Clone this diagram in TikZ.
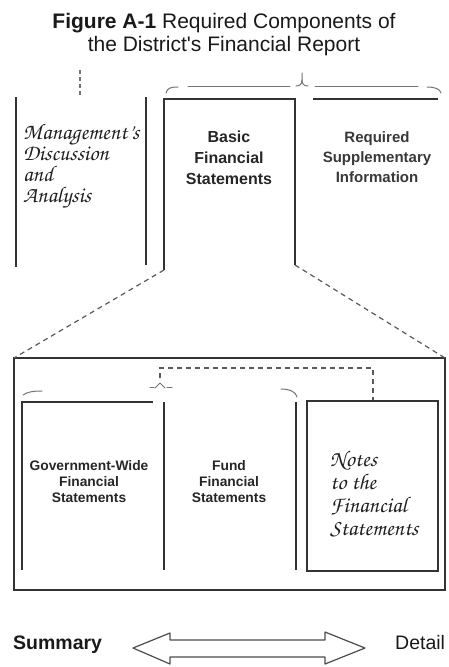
\documentclass[tikz,border=0pt]{standalone}
\usepackage[T1]{fontenc}
\usepackage{fontspec}
\newfontfamily\arial{Liberation Sans}
\newcommand\scriptf{\fontencoding{T1}\fontfamily{pzc}\fontseries{mb}\fontshape{it}\selectfont}
\begin{document}
\begin{tikzpicture}[x=1pt,y=-1pt,
  ln/.style={line width=1.3pt, draw=black!80},
  dsh/.style={line width=1.2pt, draw=black!65, dash pattern=on 5pt off 4pt},
  frag/.style={line width=1pt, draw=black!55, line cap=round},
  hd/.style={font=\arial\fontsize{21}{23}\selectfont, anchor=base, text=black!90},
  bfs/.style={font=\arial\bfseries\fontsize{16}{22}\selectfont, anchor=base, text=black!85},
  rsi/.style={font=\arial\bfseries\fontsize{15}{22}\selectfont, anchor=base, text=black!78},
  low/.style={font=\arial\bfseries\fontsize{13.8}{16}\selectfont, anchor=base, text=black!85},
  scr/.style={font=\scriptf\fontsize{22.5}{22}\selectfont, anchor=base west, text=black!88, inner sep=0pt},
  lbl/.style={font=\arial\fontsize{19.5}{22}\selectfont, anchor=base west, inner sep=0pt, text=black!90}
]
\useasboundingbox (0,0) rectangle (448,667);
% title
\node[hd] (t1) at (224,28) {\textbf{Figure A-1} Required Components of};
\node[hd] (t2) at (224,51) {the District\textquotesingle s Financial Report};

% small dashed mark above MD&A
\coordinate (mdT) at (80,70);
\coordinate (mdB) at (80,96);
\draw[line width=1.1pt, draw=black!55, dash pattern=on 4pt off 3pt] (mdT) -- (mdB);

% top brace over BFS + RSI
\draw[frag] (166,93) .. controls (167,88) and (171,87) .. (178,87);
\draw[frag] (188,86) -- (290,86);
\draw[frag] (296,86) .. controls (300,86) and (302,84) .. (302,80) -- (302,73);
\draw[frag] (302,80) .. controls (302,84) and (304,86) .. (308,86);
\draw[frag] (315,86) -- (418,86);
\draw[frag] (427,87) .. controls (435,87) and (440,89) .. (441,93);

% MD&A panel
\coordinate (mdaTL) at (16,97);
\coordinate (mdaBL) at (16,267);
\coordinate (mdaTR) at (146,97);
\coordinate (mdaBR) at (146,265);
\draw[ln] (mdaTL) -- (mdaBL);
\draw[ln] (mdaTR) -- (mdaBR);
\node[scr] (m1) at (23,139) {Management's};
\node[scr] (m2) at (23,160) {Discussion};
\node[scr] (m3) at (23,181) {and};
\node[scr] (m4) at (23,202) {Analysis};

% BFS panel
\coordinate (bfsTL) at (164,99);
\coordinate (bfsBL) at (164,270);
\coordinate (bfsTR) at (295,99);
\coordinate (bfsBR) at (295,265);
\draw[ln] (bfsBL) -- (bfsTL) -- (bfsTR) -- (bfsBR);
\node[bfs] (b1) at (229,142) {Basic};
\node[bfs] (b2) at (229,163) {Financial};
\node[bfs] (b3) at (229,184) {Statements};

% RSI panel
\coordinate (rsiL) at (313,99);
\coordinate (rsiR) at (438,99);
\draw[ln] (rsiL) -- (rsiR);
\node[rsi] (r1) at (377,142) {Required};
\node[rsi] (r2) at (377,162) {Supplementary};
\node[rsi] (r3) at (377,182) {Information};

% big box
\coordinate (boxTL) at (14,358);
\coordinate (boxTR) at (445,358);
\coordinate (boxBR) at (445,590);
\draw[ln] (boxTL) rectangle (boxBR);

% expansion dashed lines
\draw[dsh] (bfsBL) -- (boxTL);
\draw[dsh] (bfsBR) -- (boxTR);

% lower brace fragments
\draw[frag] (23,395) .. controls (27,392) and (33,391) .. (42,391);
\draw[frag] (150,387) -- (154,387);
\draw[frag] (155,388) -- (160,383) -- (165,388);
\draw[frag] (167,387) -- (172,387);
\draw[frag] (281,389) .. controls (290,389) and (296,392) .. (297,397);

% dashed connector from brace tip to Notes
\coordinate (tip) at (160,378);
\coordinate (notesTop) at (373,401);
\draw[dsh] (tip) -- (160,368) -- (373,368) -- (notesTop);

% Government-wide panel
\coordinate (gwTL) at (22,402);
\coordinate (gwTR) at (153,402);
\coordinate (gwBL) at (22,570);
\draw[ln] (gwTR) -- (gwTL) -- (gwBL);
\node[low] (g1) at (89,470) {Government-Wide};
\node[low] (g2) at (89,486) {Financial};
\node[low] (g3) at (89,502) {Statements};

% Fund panel
\coordinate (fL1) at (164,402);
\coordinate (fL2) at (164,570);
\coordinate (fR1) at (296,402);
\coordinate (fR2) at (296,570);
\draw[ln] (fL1) -- (fL2);
\draw[ln] (fR1) -- (fR2);
\node[low] (f1) at (229,470) {Fund};
\node[low] (f2) at (229,486) {Financial};
\node[low] (f3) at (229,502) {Statements};

% Notes box
\coordinate (nTL) at (307,401);
\coordinate (nBR) at (438,571);
\draw[ln] (nTL) rectangle (nBR);
\node[scr] (n1) at (330,466) {Notes};
\node[scr] (n2) at (330,489) {to the};
\node[scr] (n3) at (330,512) {Financial};
\node[scr] (n4) at (330,535) {Statements};

% bottom arrow
\node[lbl, font=\arial\bfseries\fontsize{19.5}{22}\selectfont] (sum) at (13,649) {Summary};
\node[lbl] (det) at (395,649) {Detail};
\draw[line width=1.2pt, draw=black!70, line join=round]
  (133,648) -- (170,633) -- (170,640) -- (325,640) -- (325,632) -- (365,648)
  -- (325,664) -- (325,657) -- (170,657) -- (170,664) -- cycle;
\end{tikzpicture}
\end{document}
